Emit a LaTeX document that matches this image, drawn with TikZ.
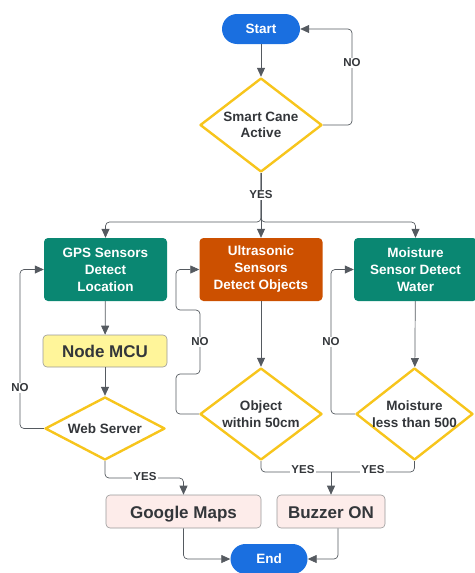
\documentclass[tikz,border=0pt]{standalone}
\usepackage{fontspec}
\setmainfont{Liberation Sans}
\usepackage{tikz}
\usetikzlibrary{shapes.geometric,arrows.meta}

\definecolor{pillblue}{HTML}{1A6FE0}
\definecolor{sensteal}{HTML}{0A8772}
\definecolor{sensorange}{HTML}{CC5000}
\definecolor{decyellow}{HTML}{F7C51C}
\definecolor{mcuyellow}{HTML}{FFF59A}
\definecolor{outpink}{HTML}{FDECEA}
\definecolor{linegray}{HTML}{555A60}
\definecolor{textgray}{HTML}{33363A}

\begin{document}
\begin{tikzpicture}[x=1pt, y=-1pt,
	pill/.style={rounded corners=15pt, fill=pillblue, text=white, minimum width=78pt, minimum height=30pt,
		font=\fontsize{13.5}{16.5}\selectfont\bfseries},
	sensor/.style={rounded corners=4pt, text=white, minimum width=123pt, minimum height=63pt, align=center,
		font=\fontsize{13.5}{17}\selectfont\bfseries},
	decision/.style={diamond, draw=decyellow, line width=2.4pt, line join=round, fill=white, inner sep=-6pt,
		text=textgray, align=center, font=\fontsize{13.5}{16.5}\selectfont\bfseries},
	outbox/.style={rounded corners=4pt, draw=gray!80, line width=0.6pt, text=textgray, minimum height=33pt,
		text height=14.5pt, text depth=1pt, font=\fontsize{17}{20}\selectfont\bfseries},
	conn/.style={draw=linegray, line width=0.7pt, rounded corners=4pt},
	arr/.style={conn, -{Triangle[length=9pt, width=8pt]}},
	lbl/.style={fill=white, inner sep=1pt, text=textgray, font=\fontsize{11.5}{13}\selectfont\bfseries}]

	\useasboundingbox (0,0) rectangle (474,573);

	% Start and first check
	\node (start) at (261,29) [pill] {Start};
	\node (smart) at (261,125) [decision, minimum width=122pt, minimum height=94pt] {Smart Cane\\Active};

	% Sensors
	\node (gps) at (105.5,269.5) [sensor, fill=sensteal] {GPS Sensors\\Detect\\Location};
	\node (ultra) at (261,269.5) [sensor, fill=sensorange] {Ultrasonic\\Sensors\\Detect Objects};
	\node (mbox) at (415.5,269.5) [sensor, fill=sensteal] {Moisture\\Sensor Detect\\Water};

	% GPS column
	\node (mcu) at (105,351) [outbox, fill=mcuyellow, minimum width=124pt, minimum height=32pt] {Node MCU};
	\node (web) at (105,428.5) [decision, minimum width=120pt, minimum height=63pt] {Web Server};

	% Checks under the sensors
	\node (obj) at (261,414) [decision, minimum width=122pt, minimum height=92pt] {Object\\within 50cm};
	\node (moist) at (414.5,414) [decision, minimum width=117pt, minimum height=92pt] {Moisture\\less than 500};

	% Outputs
	\node (gmaps) at (183.5,511.5) [outbox, fill=outpink, minimum width=155pt] {Google Maps};
	\node (buzz) at (331,511.5) [outbox, fill=outpink, minimum width=108pt] {Buzzer ON};
	\node (end) at (269,559) [pill, minimum width=77pt] {End};

	\coordinate (yesjoin) at (331,472);

	% Top part
	\draw[arr] (start) -- (smart);
	\draw[arr] (smart.east) -| (352,60) |- (start.east);
	\draw[arr] (smart.south) -- (ultra.north);
	\draw[arr] (smart.south) -- (261,222) -| (gps.north);
	\draw[arr] (smart.south) -- (261,222) -| (mbox.north);

	% GPS column
	\draw[arr] (gps) -- (mcu);
	\draw[arr] (mcu) -- (web);
	\draw[arr] (web.west) -| (20,300) |- (gps.west);
	\draw[arr] (web.south) -- (105,478) -| (gmaps.north);

	% Ultrasonic column
	\draw[arr] (ultra) -- (obj);
	\draw[arr] (obj.west) -| (176,374) -| (200,310) -| (176,290) |- (ultra.west);
	\draw[conn] (obj.south) |- (yesjoin);

	% Moisture column
	\draw[arr] (mbox) -- (moist);
	\draw[arr] (moist.west) -| (331,300) |- (mbox.west);
	\draw[conn] (moist.south) |- (yesjoin);
	\draw[arr] (yesjoin) -- (buzz.north);

	% To the end
	\draw[arr] (gmaps.south) |- (end.west);
	\draw[arr] ([xshift=7pt]buzz.south) |- (end.east);

	% Labels
	\node (noA) at (352,63) [lbl] {NO};
	\node (yesA) at (261,195) [lbl] {YES};
	\node (noB) at (20,388) [lbl] {NO};
	\node (noC) at (200,342) [lbl] {NO};
	\node (noD) at (331,342) [lbl] {NO};
	\node (yesB) at (145,477) [lbl] {YES};
	\node (yesC) at (303,470) [lbl] {YES};
	\node (yesD) at (373,470) [lbl] {YES};

\end{tikzpicture}
\end{document}
